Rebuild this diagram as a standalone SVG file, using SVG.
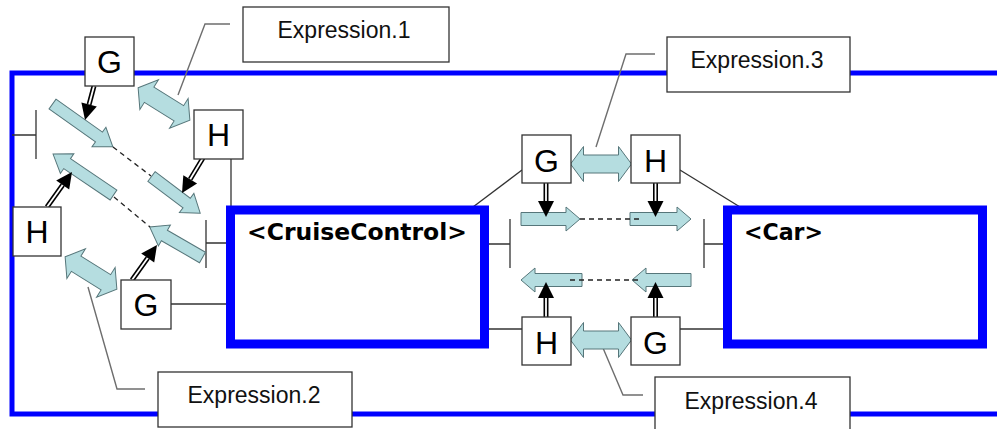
<svg xmlns="http://www.w3.org/2000/svg" width="997" height="429" viewBox="0 0 997 429">
<defs>
<style>
.outer{fill:none;stroke:#0000ff;stroke-width:5}
.comp{fill:#ffffff;stroke:#0000ff;stroke-width:9}
.expr{fill:#ffffff;stroke:#333333;stroke-width:1.3}
.exprt{font-family:"Liberation Sans",Arial,sans-serif;font-size:23px;fill:#111111;text-anchor:middle}
.lead{fill:none;stroke:#6e6e6e;stroke-width:1.4}
.conn{fill:none;stroke:#333333;stroke-width:1.3}
.gh{fill:#ffffff;stroke:#333333;stroke-width:1.3}
.ght{font-family:"Liberation Sans",Arial,sans-serif;font-size:32px;fill:#000000;text-anchor:middle}
.compt{font-family:"DejaVu Sans",Verdana,sans-serif;font-weight:bold;font-size:23px;fill:#000000}
.flow{fill:#b5dde0;stroke:#56767a;stroke-width:1}
.dash{fill:none;stroke:#222222;stroke-width:1.3;stroke-dasharray:5 4}
.shaft{fill:none;stroke:#000000;stroke-width:5}
.shaftw{fill:none;stroke:#ffffff;stroke-width:1.8}
.head{fill:#000000}
</style>
<polygon id="dbl" class="flow" points="-30.5,0 -17.5,-17.5 -17.5,-9 17.5,-9 17.5,-17.5 30.5,0 17.5,17.5 17.5,9 -17.5,9 -17.5,17.5"/>
</defs>
<rect width="997" height="429" fill="#ffffff"/>
<rect id="system" class="outer" x="12" y="73" width="1000" height="341"/>

<g id="expr1"><rect class="expr" x="243" y="7" width="206" height="55"/><text class="exprt" x="344" y="38">Expression.1</text></g>
<g id="expr2"><rect class="expr" x="158" y="372" width="194" height="55"/><text class="exprt" x="254" y="403">Expression.2</text></g>
<g id="expr3"><rect class="expr" x="667" y="37" width="183" height="55"/><text class="exprt" x="757" y="68">Expression.3</text></g>
<g id="expr4"><rect class="expr" x="655" y="377" width="195" height="60"/><text class="exprt" x="751" y="409">Expression.4</text></g>

<g id="leaders">
<path class="lead" d="M230,24 L205,24 L178,95"/>
<path class="lead" d="M145,389 L117,389 L88,287"/>
<path class="lead" d="M655,54 L626,54 L596,147"/>
<path class="lead" d="M643,395 L623,395 L603,348"/>
</g>

<g id="connectors">
<path class="conn" d="M12,135 H36 M36,110 V159"/>
<path class="conn" d="M206,220 V268 M206,243 H226"/>
<path class="conn" d="M231,159 V206"/>
<path class="conn" d="M171,304 H226"/>
<path class="conn" d="M522,170 L473,207"/>
<path class="conn" d="M680,170 L740,207"/>
<path class="conn" d="M489,244 H510 M510,219 V268"/>
<path class="conn" d="M704,219 V268 M704,244 H723"/>
<path class="conn" d="M489,329 H522"/>
<path class="conn" d="M680,329 H723"/>
</g>

<g id="CruiseControl"><rect class="comp" x="230.5" y="210" width="254" height="134"/><text class="compt" x="247" y="240" textLength="220" lengthAdjust="spacingAndGlyphs">&lt;CruiseControl&gt;</text></g>
<g id="Car"><rect class="comp" x="727.5" y="210" width="255" height="134"/><text class="compt" x="744" y="240" textLength="79" lengthAdjust="spacingAndGlyphs">&lt;Car&gt;</text></g>

<g id="flows-left">
<polygon class="flow" transform="translate(52.5,104) rotate(35.4)" points="0,-6 57,-6 57,-12 74,0 57,12 57,6 0,6"/>
<polygon class="flow" transform="translate(113.5,195) rotate(214.1)" points="0,-6 56,-6 56,-12 73,0 56,12 56,6 0,6"/>
<polygon class="flow" transform="translate(151.5,176.5) rotate(37)" points="0,-6 44,-6 44,-12 61,0 44,12 44,6 0,6"/>
<polygon class="flow" transform="translate(202.5,257.5) rotate(210)" points="0,-6 44,-6 44,-12 61,0 44,12 44,6 0,6"/>
<path class="dash" d="M113,147 L151,176"/>
<path class="dash" d="M114,197 L150,227"/>
<use href="#dbl" transform="translate(164,104) rotate(32)"/>
<use href="#dbl" transform="translate(91,273) rotate(32)"/>
</g>

<g id="flows-mid">
<polygon class="flow" points="521,212.5 566,212.5 566,207 580,219 566,231 566,225.5 521,225.5"/>
<polygon class="flow" points="630,212.5 677,212.5 677,207 691,219 677,231 677,225.5 630,225.5"/>
<polygon class="flow" points="582,273.5 535,273.5 535,268 521,280 535,292 535,286.5 582,286.5"/>
<polygon class="flow" points="691,273.5 646,273.5 646,268 632,280 646,292 646,286.5 691,286.5"/>
<path class="dash" d="M580,219 H640"/>
<path class="dash" d="M570,280 H640"/>
<use href="#dbl" transform="translate(601,164)"/>
<use href="#dbl" transform="translate(601,340)"/>
</g>

<g id="binds">
<path class="shaft" d="M94,86 L89.1,104.5"/><path class="shaftw" d="M94,86 L89.1,104.5"/><polygon class="head" points="85,120 81.4,102.5 96.8,106.5"/>
<path class="shaft" d="M203,158 L190.2,179.3"/><path class="shaftw" d="M203,158 L190.2,179.3"/><polygon class="head" points="182,193 183.3,175.2 197.1,183.4"/>
<path class="shaft" d="M47,207 L62.7,185"/><path class="shaftw" d="M47,207 L62.7,185"/><polygon class="head" points="72,172 69.2,189.6 56.2,180.4"/>
<path class="shaft" d="M132,280 L147.7,258"/><path class="shaftw" d="M132,280 L147.7,258"/><polygon class="head" points="157,245 154.2,262.6 141.2,253.4"/>
<path class="shaft" d="M546,183 V201"/><path class="shaftw" d="M546,183 V201"/><polygon class="head" points="546,217 538,201 554,201"/>
<path class="shaft" d="M655.5,183 V201"/><path class="shaftw" d="M655.5,183 V201"/><polygon class="head" points="655.5,217 647.5,201 663.5,201"/>
<path class="shaft" d="M546,317 V298"/><path class="shaftw" d="M546,317 V298"/><polygon class="head" points="546,282 538,298 554,298"/>
<path class="shaft" d="M655.5,317 V298"/><path class="shaftw" d="M655.5,317 V298"/><polygon class="head" points="655.5,282 647.5,298 663.5,298"/>
</g>

<g id="G1"><rect class="gh" x="85" y="37" width="49" height="49"/><text class="ght" x="109.5" y="73">G</text></g>
<g id="H1"><rect class="gh" x="194" y="110" width="49" height="49"/><text class="ght" x="218.5" y="146">H</text></g>
<g id="H2"><rect class="gh" x="13" y="207" width="48" height="49"/><text class="ght" x="37" y="243">H</text></g>
<g id="G2"><rect class="gh" x="121" y="280" width="50" height="49"/><text class="ght" x="146" y="316">G</text></g>
<g id="G3"><rect class="gh" x="522" y="135" width="49" height="48"/><text class="ght" x="546.5" y="172">G</text></g>
<g id="H3"><rect class="gh" x="631" y="135" width="49" height="48"/><text class="ght" x="655.5" y="172">H</text></g>
<g id="H4"><rect class="gh" x="522" y="317" width="49" height="48"/><text class="ght" x="546.5" y="354">H</text></g>
<g id="G4"><rect class="gh" x="631" y="317" width="49" height="48"/><text class="ght" x="655.5" y="354">G</text></g>
</svg>
